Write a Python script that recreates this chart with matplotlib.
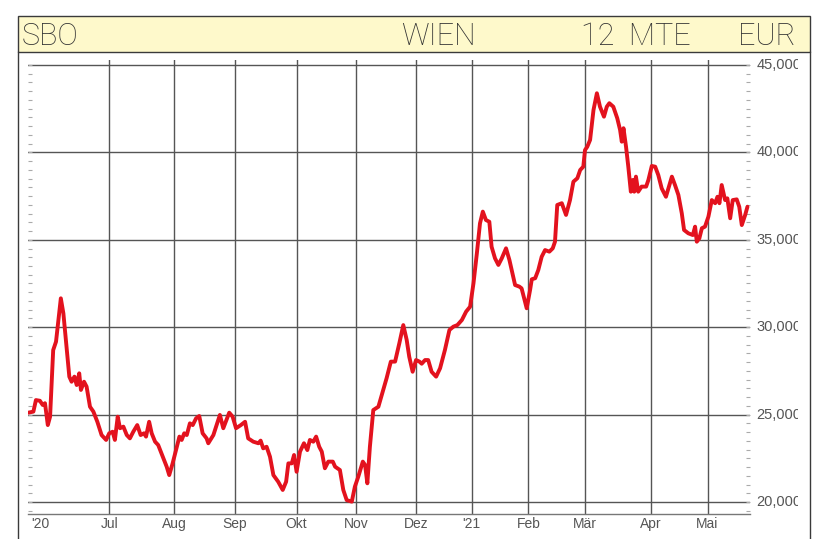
import matplotlib
matplotlib.use("Agg")
import matplotlib.pyplot as plt
from matplotlib.patches import Rectangle
from matplotlib.lines import Line2D
from matplotlib.transforms import Bbox, TransformedBbox, blended_transform_factory
from matplotlib.ticker import MultipleLocator

# ---- data (trading-day position, price in EUR) ----
day = [0.1, 1.9, 2.8, 4.2, 5.2, 6.0, 7.0, 7.8, 8.9, 9.9, 11.6, 12.5, 14.6, 15.4, 16.4, 17.2,
       18.1, 18.7, 19.8, 20.7, 21.9, 23.1, 24.5, 26.0, 27.6, 28.7, 29.9, 30.7, 31.7, 32.5,
       33.7, 34.9, 36.0, 37.2, 38.6, 39.8, 41.0, 41.7, 42.8, 43.7, 44.9, 46.0, 47.6, 49.0,
       49.9, 51.1, 52.3, 53.5, 54.3, 55.2, 56.1, 57.2, 58.2, 59.4, 60.5, 61.7, 63.1, 63.7,
       65.5, 67.8, 69.0, 71.1, 72.3, 73.5, 75.2, 76.7, 77.8, 79.6, 81.4, 82.2, 83.1, 84.3,
       85.5, 86.7, 88.4, 90.0, 91.2, 92.0, 93.2, 94.0, 94.9, 96.1, 97.5, 98.7, 99.6, 100.8,
       101.8, 102.9, 103.8, 104.9, 106.1, 107.7, 108.5, 110.2, 111.4, 112.6, 114.4, 115.5,
       116.7, 118.3, 119.1, 119.9, 120.8, 122.0, 123.8, 125.5, 126.7, 128.2, 129.7, 131.2,
       132.6, 133.8, 134.7, 135.9, 137.1, 138.3, 139.1, 140.3, 141.4, 142.6, 144.2, 145.6,
       147.3, 148.9, 150.3, 151.7, 153.3, 154.8, 156.2, 157.4, 158.6, 159.7, 160.7, 161.8,
       163.0, 163.8, 165.0, 166.2, 167.4, 168.9, 170.1, 171.3, 172.1, 173.6, 174.4, 175.3,
       176.2, 177.4, 178.0, 179.2, 180.3, 181.5, 182.7, 184.2, 185.4, 186.2, 187.0, 188.6,
       190.1, 191.5, 192.7, 194.1, 195.1, 196.2, 196.8, 197.6, 198.6, 199.8, 201.0, 202.1,
       203.5, 204.5, 205.4, 206.8, 208.2, 209.2, 209.8, 210.4, 211.3, 212.1, 213.0, 213.7,
       214.2, 214.8, 215.6, 216.8, 218.4, 219.2, 220.4, 221.6, 222.7, 223.9, 225.4, 226.6,
       227.5, 228.6, 229.8, 231.0, 231.8, 233.3, 234.9, 235.7, 236.3, 237.2, 238.1, 239.2,
       240.4, 241.6, 242.8, 243.6, 244.3, 245.1, 246.3, 247.1, 248.1, 249.0, 250.4, 251.3,
       252.2, 253.4, 254.2]
price = [25110, 25170, 25830, 25790, 25550, 25650, 24400, 24880, 28690, 29170, 31650, 30790,
         27170, 26880, 27170, 26690, 27360, 26410, 26880, 26600, 25450, 25170, 24590, 23830,
         23550, 23930, 24020, 23550, 24880, 24220, 24310, 23830, 23640, 24020, 24400, 23830,
         23930, 23740, 24590, 23930, 23450, 23260, 22590, 22020, 21540, 22210, 22970, 23740,
         23550, 23930, 23830, 24500, 24400, 24790, 24920, 23930, 23640, 23360, 23830, 24980,
         24220, 25110, 24880, 24220, 24400, 24590, 23640, 23450, 23360, 23510, 23070, 23160,
         22590, 21540, 21160, 20690, 21160, 22210, 22210, 22690, 21730, 22880, 23360, 22970,
         23550, 23450, 23740, 23160, 22880, 21930, 22310, 22310, 22020, 21830, 20690, 20110,
         20020, 20880, 21450, 22310, 22120, 21070, 23160, 25260, 25450, 26410, 27080, 28030,
         28030, 29080, 30120, 29270, 28310, 27450, 28120, 28030, 27910, 28120, 28120, 27450,
         27170, 27650, 28690, 29840, 30030, 30120, 30410, 30890, 31170, 32510, 34230, 35940,
         36610, 36130, 36030, 34600, 33940, 33560, 33940, 34510, 33840, 32980, 32410, 32320,
         32220, 31650, 31080, 32130, 32740, 32800, 33270, 34030, 34410, 34320, 34510, 34890,
         36990, 37090, 36420, 37270, 38320, 38520, 38990, 39180, 40130, 40320, 40710, 42420,
         43380, 42610, 42040, 42610, 42810, 42610, 41950, 41280, 40610, 41380, 40320, 39180,
         37750, 38420, 37750, 38610, 37750, 38040, 38040, 38420, 39220, 39180, 38700, 37940,
         37460, 38130, 38610, 38130, 37560, 36510, 35560, 35370, 35270, 35750, 34890, 35080,
         35660, 35750, 36320, 37270, 37090, 37460, 37090, 38130, 37270, 37370, 36230, 37270,
         37310, 36890, 35840, 36420, 36890]

month_pos = [4.2, 28.7, 51.7, 73.1, 94.9, 115.9, 137.0, 156.8, 176.8, 196.8, 220.0, 240.1]
month_labels = ["'20", "Jul", "Aug", "Sep", "Okt", "Nov", "Dez", "'21", "Feb", "Mär", "Apr", "Mai"]
price_ticks = [20000, 25000, 30000, 35000, 40000, 45000]
price_labels = ["20,000", "25,000", "30,000", "35,000", "40,000", "45,000"]

W, H = 824, 539
fig = plt.figure(figsize=(W / 100, H / 100), dpi=100)
fig.patch.set_facecolor("white")

def fx(px):
    return px / W

def fy(py):
    return 1 - py / H

# header box
fig.add_artist(Rectangle((fx(18), fy(52)), fx(810) - fx(18), fy(16) - fy(52),
                         transform=fig.transFigure, facecolor="#FEF9CB",
                         edgecolor="#3a3a3a", linewidth=1.0))
# outer frame below header
fig.add_artist(Line2D([fx(18), fx(18)], [fy(52), 0], transform=fig.transFigure,
                      color="#3a3a3a", linewidth=1.0))
fig.add_artist(Line2D([fx(810), fx(810)], [fy(52), 0], transform=fig.transFigure,
                      color="#3a3a3a", linewidth=1.0))

hdr_font = dict(family=["Roboto", "Open Sans", "DejaVu Sans"], fontweight="light",
                fontsize=22, color="#333333", va="center")
fig.text(fx(22), fy(36), "SBO", ha="left", **hdr_font)
fig.text(fx(401), fy(36), "WIEN", ha="left", **hdr_font)
fig.text(fx(581), fy(36), "12  MTE", ha="left", **hdr_font)
fig.text(fx(796), fy(36), "EUR", ha="right", **hdr_font)

# axes
ax = fig.add_axes([fx(28), fy(514), fx(750) - fx(28), fy(60) - fy(514)])
ax.set_xlim(0, 255.1)
ax.set_ylim(19314, 45282)
for s in ["left", "right", "top"]:
    ax.spines[s].set_visible(False)
ax.spines["bottom"].set_color("#777777")
ax.spines["bottom"].set_linewidth(1.0)

grid_c = "#555555"
for v in price_ticks:
    ax.axhline(v, color=grid_c, linewidth=1.0, zorder=1)
for p in month_pos[1:]:
    ax.axvline(p, color=grid_c, linewidth=1.0, zorder=1)

ax.set_xticks([])
ax.set_yticks([])
ax.yaxis.set_minor_locator(MultipleLocator(500))
ax.tick_params(axis="y", which="minor", left=True, right=True, direction="in",
               length=3, width=0.8, color="#aaaaaa")

ax.plot(day, price, color="#E3121E", linewidth=2.8, solid_joinstyle="round",
        solid_capstyle="round", zorder=3)

lbl_font = dict(family=["Liberation Sans Narrow", "Liberation Sans", "DejaVu Sans"],
                color="#555555")
tr_y = blended_transform_factory(ax.transAxes, ax.transData)
clip = TransformedBbox(Bbox([[0, 0], [797.5 / W, 1]]), fig.transFigure)
for v, s in zip(price_ticks, price_labels):
    t = ax.text(1.009, v, s, transform=tr_y, ha="left", va="center",
                clip_on=True, fontsize=10.5, **lbl_font)
    t.set_clip_box(clip)

tr_x = blended_transform_factory(ax.transData, ax.transAxes)
for p, s in zip(month_pos, month_labels):
    ax.text(p, -0.021, s, transform=tr_x, ha="center", va="center",
            clip_on=False, fontsize=10, **lbl_font)

fig.savefig("out.png", dpi=100, facecolor="white")
